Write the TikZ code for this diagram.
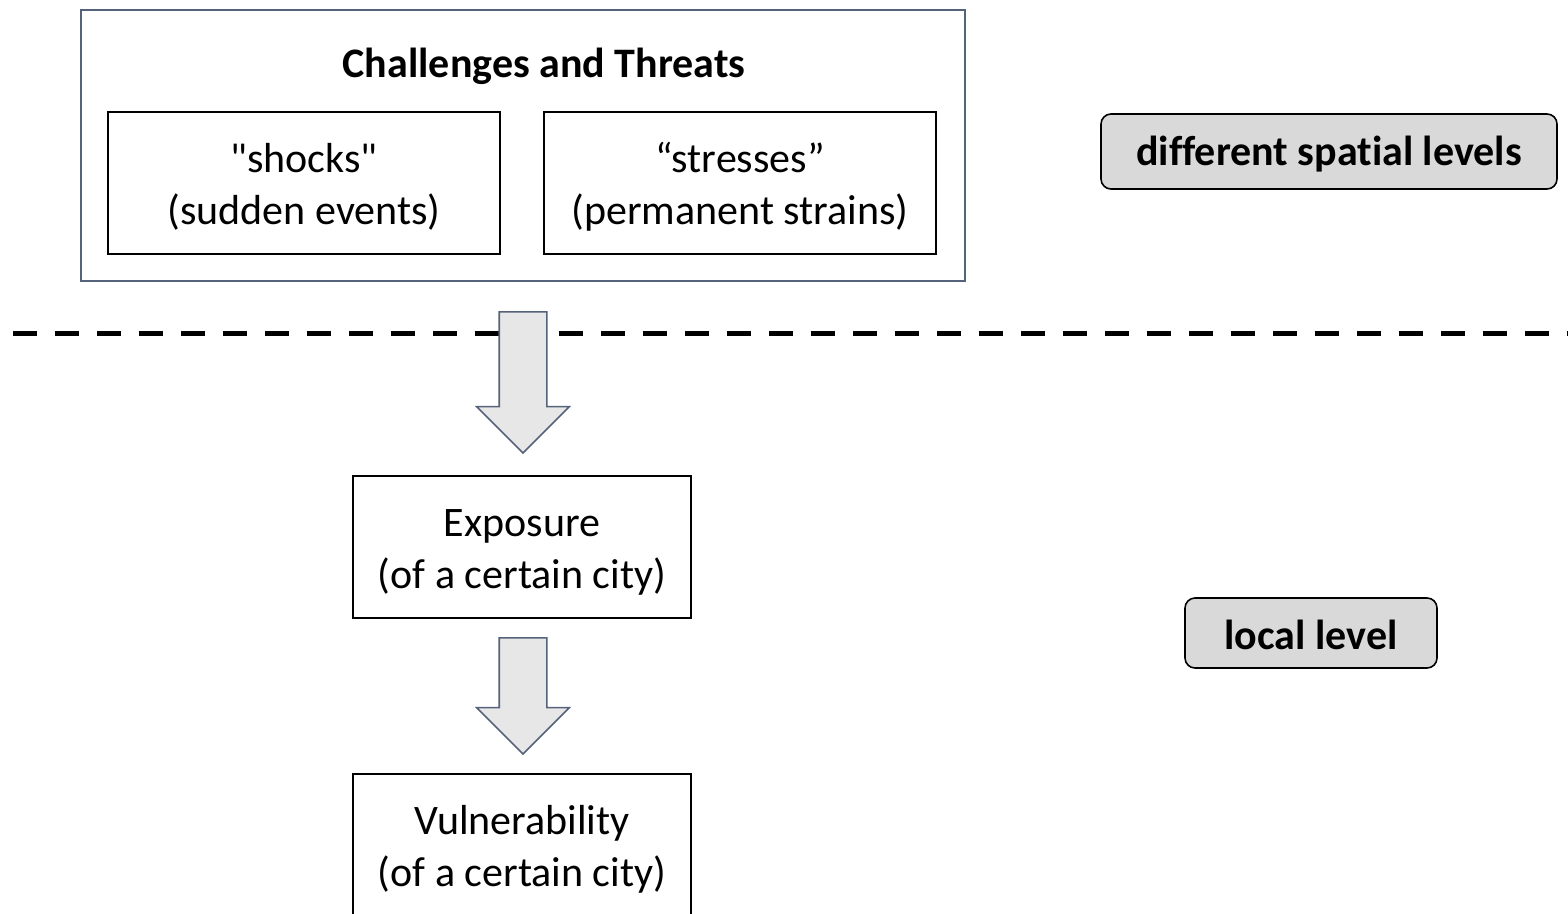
\documentclass[tikz,border=0pt]{standalone}
\usepackage{fontspec}
\newfontfamily\calfont{Carlito}[Ligatures=NoCommon]
\usetikzlibrary{arrows.meta,positioning,shapes.arrows}
\definecolor{frameslate}{RGB}{84,98,122}
\definecolor{arrowfill}{RGB}{231,231,231}
\definecolor{levelfill}{RGB}{217,217,217}
\newcommand\toplift{\rule{0pt}{37.5pt}}
\tikzset{
  bigfont/.style={font=\calfont\fontsize{42}{52}\selectfont},
  boldfont/.style={font=\calfont\fontsize{42}{52}\selectfont\bfseries},
  groupframe/.style={rectangle, draw=frameslate, line width=1.6pt,
    minimum width=884pt, minimum height=271pt},
  itembox/.style={rectangle, draw=black, line width=1.6pt,
    minimum height=142pt, align=center, bigfont, inner sep=0pt},
  levelbox/.style={rectangle, rounded corners=10pt, draw=black, line width=1.6pt,
    fill=levelfill, align=center, boldfont, inner sep=0pt,
    execute at begin node={\rule{0pt}{34pt}}},
  downarrow/.style={single arrow, shape border rotate=270, draw=frameslate,
    line width=1.6pt, fill=arrowfill, minimum width=91pt,
    single arrow head extend=22.5pt, single arrow tip angle=90,
    single arrow head indent=0pt, inner sep=23pt},
  divider/.style={line width=5pt, dash pattern=on 24pt off 18pt}
}

\begin{document}
\begin{tikzpicture}[x=1pt, y=-1pt]
  \useasboundingbox (0,0) rectangle (1568,913);
  \clip (0,0) rectangle (1568,913);

  % --- level divider ---
  \coordinate (divleft) at (13,333);
  \coordinate (divright) at (1590,333);
  \draw[divider] (divleft) -- (divright);

  % --- challenges and threats ---
  \node[groupframe] (threats) at (523,145.5) {};
  \node[boldfont] (title) at (544,66) {Challenges and Threats};
  \node[itembox, minimum width=392pt] (shocks) at (304,183) {\toplift"shocks"\\(sudden events)};
  \node[itembox, minimum width=392pt] (stresses) at (740,183) {\toplift“stresses”\\(permanent strains)};

  % --- local chain ---
  \node[downarrow, minimum height=141pt] (arrowA) at (523,370.5) {};
  \node[itembox, minimum width=338pt] (exposure) at (522,547) {\toplift Exposure\\(of a certain city)};
  \node[downarrow, minimum height=116pt] (arrowB) at (523,684) {};
  \node[itembox, minimum width=338pt] (vulner) at (522,845) {\toplift Vulnerability\\(of a certain city)};

  % --- level labels ---
  \node[levelbox, minimum width=456pt, minimum height=75pt] (spatial) at (1329,151.5) {different spatial levels};
  \node[levelbox, minimum width=252pt, minimum height=70pt] (local) at (1311,633) {local level};

\end{tikzpicture}
\end{document}
